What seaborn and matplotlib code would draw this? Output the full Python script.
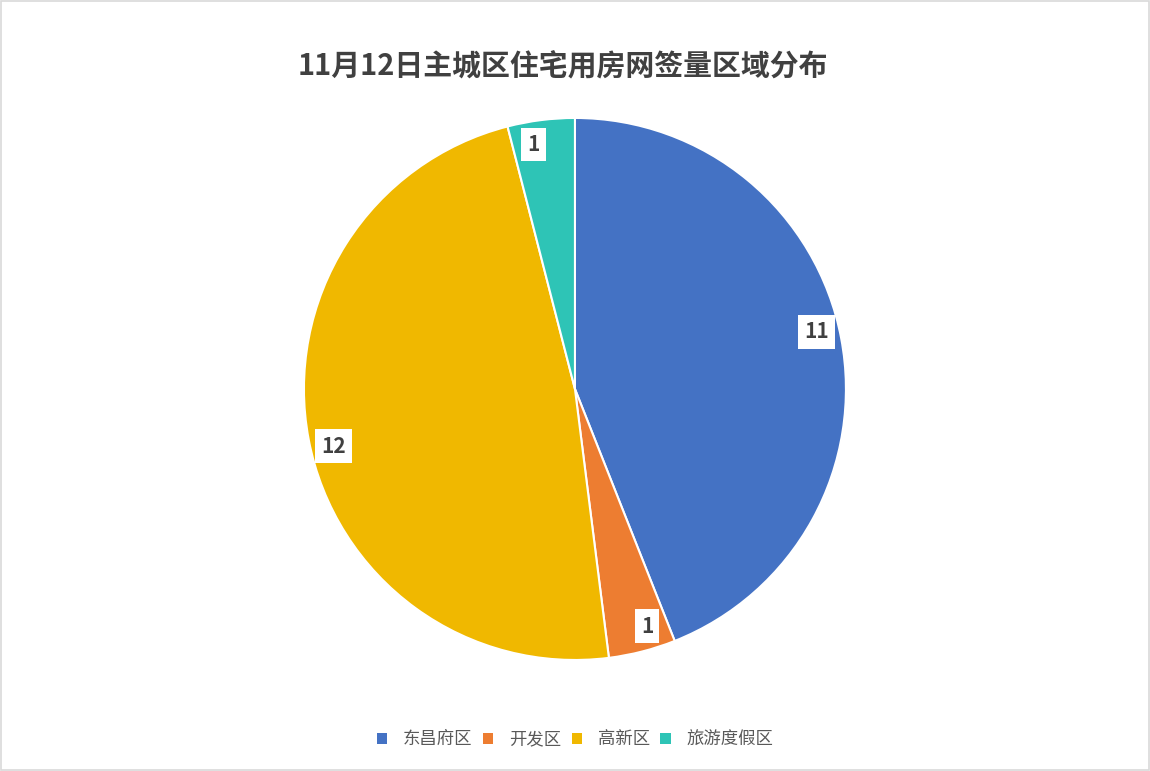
import matplotlib
matplotlib.use("Agg")
import numpy as np
import matplotlib.pyplot as plt
from matplotlib.patches import Patch, Rectangle
import seaborn as sns

# data
regions = ["东昌府区", "开发区", "高新区", "旅游度假区"]
counts = [11, 1, 12, 1]
colors = ["#4472C4", "#ED7D31", "#F0B800", "#2EC4B6"]
title = "11月12日主城区住宅用房网签量区域分布"

sns.set_theme(style="white")
plt.rcParams['font.family'] = ['Noto Sans CJK SC', 'DejaVu Sans']

fig = plt.figure(figsize=(11.5, 7.71), dpi=100)
fig.patch.set_facecolor("white")
fig.patches.append(Rectangle((0.001, 0.001), 0.998, 0.998, transform=fig.transFigure,
                             fill=False, edgecolor="#D9D9D9", linewidth=1.2))

ax = fig.add_axes([0.2643, 0.144, 0.4713, 0.703])
wedges, _ = ax.pie(
    counts, colors=colors, startangle=90, counterclock=False, radius=1.0,
    wedgeprops=dict(edgecolor="white", linewidth=1.5),
)

# data labels near the rim, nudged a bit like Excel's best fit
for w, n in zip(wedges, counts):
    ang = np.deg2rad((w.theta1 + w.theta2) / 2 + 2.5)
    ax.text(0.915 * np.cos(ang), 0.915 * np.sin(ang), str(n), ha="center", va="center",
            fontsize=15, fontweight="bold", color="#404040",
            bbox=dict(facecolor="white", edgecolor="none", pad=4.5))

ax.set_xlim(-1, 1)
ax.set_ylim(-1, 1)
ax.set_aspect("auto")
ax.axis("off")

fig.text(0.4896, 0.914, title, ha="center", va="center", fontsize=20.8,
         fontweight="bold", color="#404040")

handles = [Patch(facecolor=c, edgecolor="none") for c in colors]
fig.legend(handles, regions, loc="center", bbox_to_anchor=(0.5, 0.041), ncol=4,
           frameon=False, fontsize=12.5, handlelength=0.6, handleheight=0.6,
           handletextpad=0.9, columnspacing=0.6, labelcolor="#595959")

fig.savefig("out.png", dpi=100, facecolor="white")
